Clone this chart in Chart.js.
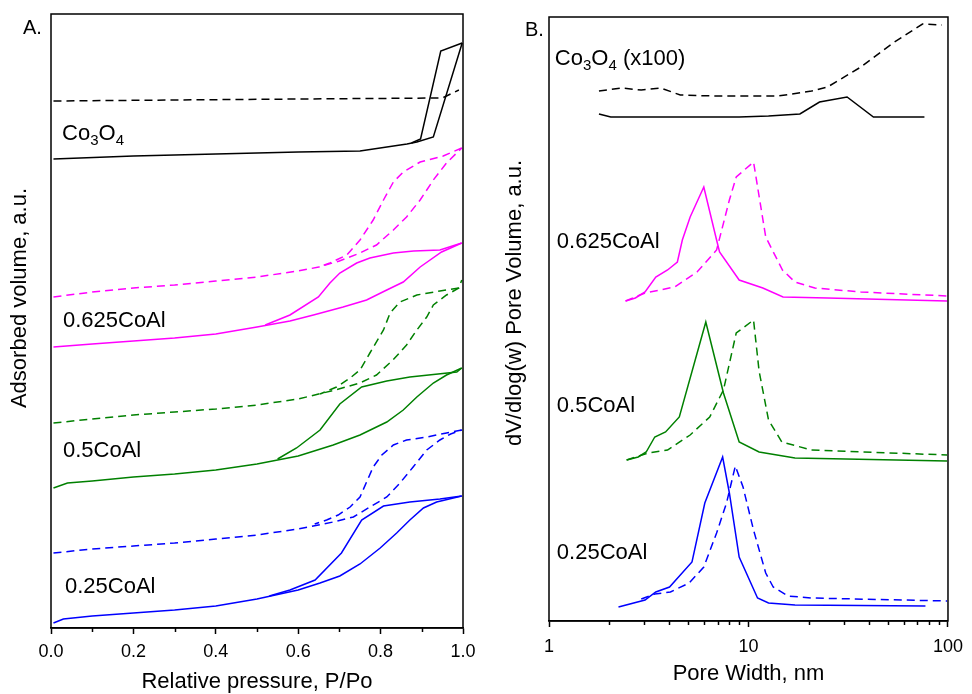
<!DOCTYPE html>
<html>
<head>
<meta charset="utf-8">
<title>Isotherms and pore size distribution</title>
<script src="https://cdn.jsdelivr.net/npm/chart.js@4.4.0/dist/chart.umd.min.js"></script>
<style>
  body { margin: 0; background: #fff; }
  #wrap { position: relative; width: 972px; height: 694px; }
  .panel { position: absolute; top: 0; width: 486px; height: 694px; }
</style>
</head>
<body>
<div id="wrap">
  <div class="panel" style="left:0"><canvas id="chartA"></canvas></div>
  <div class="panel" style="left:486px"><canvas id="chartB"></canvas></div>
</div>
<script>
// ---- panel A: N2 isotherms (relative pressure vs adsorbed volume, a.u.) ----
var co3o4AdsP = [0.006, 0.2, 0.4, 0.6, 0.75, 0.864, 0.888, 0.928, 0.998];
var co3o4AdsV = [469, 472, 474, 476, 477, 484, 486, 491, 585];
var co3o4DesP = [0.998, 0.946, 0.897, 0.875];
var co3o4DesV = [585, 577, 489, 485];
var co3o4DashP = [0.006, 0.3, 0.6, 0.95, 0.99];
var co3o4DashV = [527, 528, 529, 530, 538];

var mag625AdsP = [0.006, 0.1, 0.2, 0.3, 0.4, 0.5, 0.58, 0.637, 0.709, 0.766, 0.815, 0.855, 0.896, 0.948, 0.997];
var mag625AdsV = [281, 284, 287, 290, 294, 301, 307, 313, 321, 328, 338, 346, 361, 376, 385];
var mag625DesP = [0.997, 0.944, 0.88, 0.831, 0.774, 0.742, 0.701, 0.677, 0.649, 0.58, 0.52];
var mag625DesV = [385, 378, 377, 375, 370, 365, 355, 345, 331, 313, 303];
var mag625DashAdsP = [0.006, 0.1, 0.2, 0.3, 0.4, 0.5, 0.6, 0.65, 0.7, 0.75, 0.79, 0.831, 0.863, 0.896, 0.928, 0.96, 0.997];
var mag625DashAdsV = [331, 336, 340, 343, 347, 351, 357, 361, 367, 375, 383, 398, 411, 428, 448, 465, 480];
var mag625DashDesP = [0.997, 0.952, 0.896, 0.855, 0.831, 0.807, 0.782, 0.75, 0.718, 0.677, 0.65];
var mag625DashDesV = [480, 472, 466, 456, 446, 428, 408, 388, 373, 365, 361];

var grn05AdsP = [0.006, 0.04, 0.1, 0.2, 0.3, 0.4, 0.5, 0.6, 0.685, 0.75, 0.815, 0.855, 0.888, 0.928, 0.96, 0.997];
var grn05AdsV = [140, 145, 147, 151, 154, 158, 164, 172, 183, 193, 206, 218, 231, 245, 253, 260];
var grn05DesP = [0.997, 0.985, 0.871, 0.815, 0.754, 0.701, 0.653, 0.596, 0.55];
var grn05DesV = [260, 256, 251, 247, 241, 224, 198, 180, 169];
var grn05DashAdsP = [0.006, 0.1, 0.2, 0.3, 0.4, 0.5, 0.6, 0.69, 0.75, 0.79, 0.83, 0.863, 0.888, 0.912, 0.928, 0.96, 0.99, 0.997];
var grn05DashAdsV = [205, 209, 213, 216, 219, 223, 229, 238, 245, 253, 268, 283, 298, 311, 323, 333, 340, 348];
var grn05DashDesP = [0.99, 0.944, 0.888, 0.847, 0.823, 0.807, 0.774, 0.75, 0.726, 0.693, 0.653];
var grn05DashDesV = [340, 337, 333, 326, 315, 298, 275, 258, 250, 241, 234];

var blu25AdsP = [0.006, 0.03, 0.1, 0.2, 0.3, 0.4, 0.5, 0.6, 0.653, 0.701, 0.75, 0.799, 0.839, 0.871, 0.904, 0.936, 0.997];
var blu25AdsV = [5, 9, 12, 15, 18, 22, 29, 38, 45, 52, 64, 80, 95, 108, 120, 126, 132];
var blu25DesP = [0.997, 0.944, 0.871, 0.807, 0.754, 0.705, 0.641, 0.58, 0.53];
var blu25DesV = [132, 129, 126, 122, 108, 75, 48, 38, 32];
var blu25DashAdsP = [0.006, 0.1, 0.2, 0.3, 0.4, 0.5, 0.6, 0.685, 0.734, 0.774, 0.815, 0.847, 0.879, 0.912, 0.944, 0.97, 0.997];
var blu25DashAdsV = [75, 79, 82, 85, 89, 93, 99, 106, 111, 121, 131, 145, 161, 178, 188, 194, 198];
var blu25DashDesP = [0.997, 0.96, 0.912, 0.863, 0.831, 0.803, 0.782, 0.766, 0.75, 0.726, 0.697, 0.669, 0.64];
var blu25DashDesV = [198, 195, 191, 188, 183, 173, 161, 146, 131, 121, 113, 108, 104];

// ---- panel B: pore size distribution (pore width nm vs dV/dlog(w), a.u.) ----
var co3o4PsdW = [1.78, 2.04, 8.98, 12.6, 18.1, 22.7, 31.2, 42.3, 76.2];
var co3o4PsdV = [507, 504, 504, 505, 507, 519, 524, 504, 504];
var co3o4PsdDashW = [1.78, 2.31, 2.90, 3.63, 4.55, 6.69, 14.1, 20.7, 24.9, 36.6, 53.0, 74.5, 93.1];
var co3o4PsdDashV = [530, 533, 531, 533, 526, 525, 525, 530, 534, 554, 578, 597, 596];

var mag625PsdW = [2.42, 2.71, 3.03, 3.43, 3.93, 4.40, 4.66, 5.10, 5.97, 6.92, 7.16, 8.98, 11.8, 14.9, 24.9, 98.9];
var mag625PsdV = [320, 323, 329, 344, 351, 359, 381, 404, 434, 381, 369, 341, 333, 324, 323, 320];
var mag625PsdDashW = [2.42, 3.03, 4.26, 5.52, 6.92, 8.02, 8.68, 10.6, 12.2, 14.8, 17.1, 21.5, 36.6, 98.9];
var mag625PsdDashV = [320, 328, 334, 349, 371, 421, 444, 459, 384, 351, 339, 333, 329, 325];

var grn05PsdW = [2.45, 2.80, 3.07, 3.39, 3.84, 4.50, 6.11, 7.49, 8.98, 11.3, 17.1, 98.9];
var grn05PsdV = [161, 164, 169, 184, 189, 204, 299, 228, 179, 169, 163, 160];
var grn05PsdDashW = [2.45, 3.13, 3.93, 5.10, 6.39, 7.49, 8.68, 10.6, 11.3, 12.6, 14.7, 20.7, 98.9];
var grn05PsdDashV = [161, 168, 171, 186, 204, 231, 288, 301, 250, 201, 179, 171, 166];

var blu25PsdW = [2.23, 3.03, 3.43, 4.02, 5.21, 6.04, 7.42, 8.02, 8.98, 11.1, 12.6, 17.1, 77.1];
var blu25PsdV = [14, 21, 29, 34, 59, 118, 164, 128, 64, 23, 18, 16, 15];
var blu25PsdDashW = [2.90, 3.39, 4.06, 5.04, 5.97, 6.92, 7.76, 8.59, 9.39, 10.6, 12.2, 13.3, 15.8, 20.7, 98.9];
var blu25PsdDashV = [22, 27, 29, 38, 54, 88, 118, 155, 134, 91, 48, 34, 25, 23, 20];

var pressureTicks = [0.1, 0.3, 0.5, 0.7, 0.9];
var widthMinorTicks = [2, 3, 4, 5, 6, 7, 8, 9, 20, 30, 40, 50, 60, 70, 80, 90];

var FONT = '"Liberation Sans", Arial, sans-serif';
var MAGENTA = '#ff00ff', GREEN = '#008000', BLUE = '#0000ff', BLACK = '#000000';

function line(xs, ys, color, dashed) {
    return {
        data: xs.map(function (x, i) { return { x: x, y: ys[i] }; }),
        borderColor: color,
        borderWidth: 1.5,
        borderDash: dashed ? [8, 5] : [],
        pointRadius: 0,
        fill: false,
        tension: 0
    };
}

// draws "Co3O4"-style text: parts are [text, isSubscript]
function drawRich(ctx, parts, x, y) {
    parts.forEach(function (p) {
        ctx.font = (p[1] ? '15px ' : '22px ') + FONT;
        ctx.fillText(p[0], x, p[1] ? y + 5 : y);
        x += ctx.measureText(p[0]).width;
    });
}

var decor = {
    id: 'decor',
    afterDraw: function (chart, args, opts) {
        var ctx = chart.ctx, a = chart.chartArea;
        var xs = chart.scales.x, ys = chart.scales.y;
        ctx.save();
        ctx.strokeStyle = BLACK;
        ctx.lineWidth = 1.5;
        ctx.strokeRect(a.left, a.top, a.right - a.left, a.bottom - a.top);
        opts.minor.forEach(function (v) {
            var px = Math.round(xs.getPixelForValue(v)) + 0.5;
            ctx.beginPath();
            ctx.moveTo(px, a.bottom);
            ctx.lineTo(px, a.bottom + 4);
            ctx.stroke();
        });
        ctx.fillStyle = BLACK;
        ctx.textAlign = 'left';
        ctx.textBaseline = 'alphabetic';
        ctx.font = '20px ' + FONT;
        ctx.fillText(opts.tag.text, opts.tag.x, opts.tag.y);
        opts.labels.forEach(function (l) {
            drawRich(ctx, l.parts, xs.getPixelForValue(l.x), ys.getPixelForValue(l.y));
        });
        ctx.translate(opts.yTitle.x, opts.yTitle.y);
        ctx.rotate(-Math.PI / 2);
        ctx.textAlign = 'center';
        ctx.textBaseline = 'middle';
        ctx.font = '22px ' + FONT;
        ctx.fillText(opts.yTitle.text, 0, 0);
        ctx.restore();
    }
};

function xAxis(extra) {
    var ax = {
        grid: { drawOnChartArea: false, tickLength: 6, tickWidth: 1.5, tickColor: BLACK },
        border: { color: BLACK, width: 1.5 }
    };
    return Object.assign(ax, extra);
}

var chartA = new Chart(document.getElementById('chartA'), {
    type: 'line',
    data: {
        datasets: [
            line(co3o4AdsP, co3o4AdsV, BLACK, false),
            line(co3o4DesP, co3o4DesV, BLACK, false),
            line(co3o4DashP, co3o4DashV, BLACK, true),
            line(mag625AdsP, mag625AdsV, MAGENTA, false),
            line(mag625DesP, mag625DesV, MAGENTA, false),
            line(mag625DashAdsP, mag625DashAdsV, MAGENTA, true),
            line(mag625DashDesP, mag625DashDesV, MAGENTA, true),
            line(grn05AdsP, grn05AdsV, GREEN, false),
            line(grn05DesP, grn05DesV, GREEN, false),
            line(grn05DashAdsP, grn05DashAdsV, GREEN, true),
            line(grn05DashDesP, grn05DashDesV, GREEN, true),
            line(blu25AdsP, blu25AdsV, BLUE, false),
            line(blu25DesP, blu25DesV, BLUE, false),
            line(blu25DashAdsP, blu25DashAdsV, BLUE, true),
            line(blu25DashDesP, blu25DashDesV, BLUE, true)
        ]
    },
    plugins: [decor],
    options: {
        responsive: true,
        maintainAspectRatio: false,
        animation: false,
        layout: { padding: { left: 51, right: 23, top: 14, bottom: 0 } },
        plugins: {
            legend: { display: false },
            tooltip: { enabled: false },
            decor: {
                minor: pressureTicks,
                tag: { text: 'A.', x: 23, y: 34 },
                yTitle: { text: 'Adsorbed volume, a.u.', x: 20, y: 298 },
                labels: [
                    { parts: [['Co', 0], ['3', 1], ['O', 0], ['4', 1]], x: 0.027, y: 488 },
                    { parts: [['0.625CoAl', 0]], x: 0.029, y: 301 },
                    { parts: [['0.5CoAl', 0]], x: 0.029, y: 171 },
                    { parts: [['0.25CoAl', 0]], x: 0.034, y: 35 }
                ]
            }
        },
        scales: {
            x: xAxis({
                type: 'linear', min: 0, max: 1,
                afterFit: function (s) { s.height = 66; },
                ticks: { stepSize: 0.2, padding: 7, color: BLACK, font: { family: FONT, size: 18 }, maxRotation: 0,
                         callback: function (v) { return v.toFixed(1); } },
                title: { display: true, text: 'Relative pressure, P/Po', color: BLACK, padding: 0,
                         font: { family: FONT, size: 22, lineHeight: 1.1 } }
            }),
            y: { display: false, min: 0, max: 614 }
        }
    }
});

var chartB = new Chart(document.getElementById('chartB'), {
    type: 'line',
    data: {
        datasets: [
            line(co3o4PsdW, co3o4PsdV, BLACK, false),
            line(co3o4PsdDashW, co3o4PsdDashV, BLACK, true),
            line(mag625PsdW, mag625PsdV, MAGENTA, false),
            line(mag625PsdDashW, mag625PsdDashV, MAGENTA, true),
            line(grn05PsdW, grn05PsdV, GREEN, false),
            line(grn05PsdDashW, grn05PsdDashV, GREEN, true),
            line(blu25PsdW, blu25PsdV, BLUE, false),
            line(blu25PsdDashW, blu25PsdDashV, BLUE, true)
        ]
    },
    plugins: [decor],
    options: {
        responsive: true,
        maintainAspectRatio: false,
        animation: false,
        layout: { padding: { left: 63, right: 16, top: 17, bottom: 0 } },
        plugins: {
            legend: { display: false },
            tooltip: { enabled: false },
            decor: {
                minor: widthMinorTicks,
                tag: { text: 'B.', x: 39, y: 36 },
                yTitle: { text: 'dV/dlog(w) Pore Volume, a.u.', x: 29, y: 303 },
                labels: [
                    { parts: [['Co', 0], ['3', 1], ['O', 0], ['4', 1], [' (x100)', 0]], x: 1.07, y: 556 },
                    { parts: [['0.625CoAl', 0]], x: 1.095, y: 373 },
                    { parts: [['0.5CoAl', 0]], x: 1.095, y: 209 },
                    { parts: [['0.25CoAl', 0]], x: 1.095, y: 62 }
                ]
            }
        },
        scales: {
            x: xAxis({
                type: 'logarithmic', min: 1, max: 100,
                afterFit: function (s) { s.height = 73; },
                afterBuildTicks: function (s) {
                    s.ticks = [1, 10, 100].map(function (v) { return { value: v, major: true }; });
                },
                ticks: { padding: 9, color: BLACK, font: { family: FONT, size: 18 }, maxRotation: 0,
                         callback: function (v) { return String(v); } },
                title: { display: true, text: 'Pore Width, nm', color: BLACK, padding: { top: 0, bottom: 8 },
                         font: { family: FONT, size: 22, lineHeight: 1.1 } }
            }),
            y: { display: false, min: 0, max: 604 }
        }
    }
});
</script>
</body>
</html>
